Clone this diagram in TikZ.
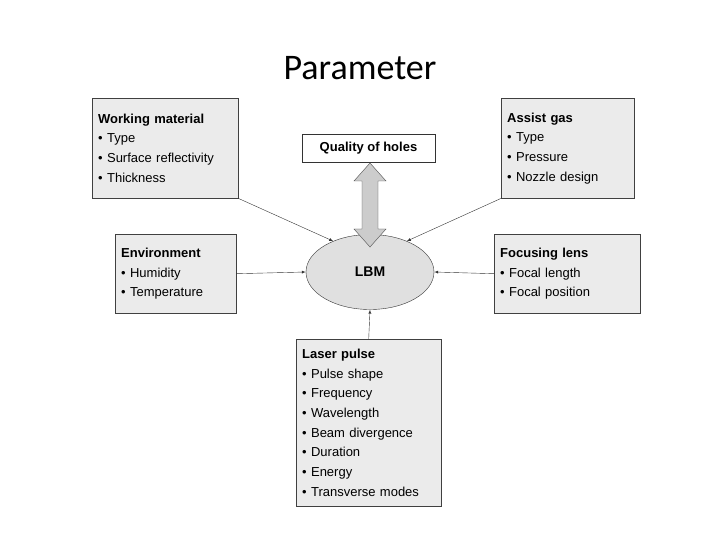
\documentclass[tikz,border=0pt]{standalone}
\usepackage{fontspec}
\setmainfont{Liberation Sans}
\newfontfamily\titlefont{Carlito}
\usetikzlibrary{shapes.geometric}

\tikzset{
	parbox/.style={draw=black!75, fill=black!8, anchor=north west, align=left,
		inner xsep=6pt, inner ysep=2pt, font=\fontsize{13}{19.7}\selectfont},
	conn/.style={->, >=latex, black!80, thin}
}
\newcommand{\itm}{\\\textbullet\ }

\begin{document}
\begin{tikzpicture}[x=1pt, y=-1pt]
	\useasboundingbox (0,0) rectangle (720,540);
	\node[font=\titlefont\fontsize{36}{40}\selectfont] (title) at (360,68) {Parameter};
	% surrounding boxes
	\node[parbox, text width=134pt, minimum height=100pt] (work) at (92,98)
		{\textbf{Working material}\itm Type\itm Surface reflectivity\itm Thickness};
	\node[parbox, text width=121pt, minimum height=100pt] (gas) at (501,98)
		{\textbf{Assist gas}\itm Type\itm Pressure\itm Nozzle design};
	\node[parbox, text width=109pt, minimum height=79pt] (env) at (115,234)
		{\textbf{Environment}\itm Humidity\itm Temperature};
	\node[parbox, text width=134pt, minimum height=79pt] (lens) at (494,234)
		{\textbf{Focusing lens}\itm Focal length\itm Focal position};
	\node[parbox, text width=133pt, minimum height=167pt] (pulse) at (296,339)
		{\textbf{Laser pulse}\itm Pulse shape\itm Frequency\itm Wavelength\itm Beam divergence\itm Duration\itm Energy\itm Transverse modes};
	\node[draw=black!80, fill=white, minimum width=133pt, minimum height=28pt,
		font=\bfseries\fontsize{13}{15}\selectfont] (quality) at (368.5,148) {Quality of holes};
	% centre
	\node[ellipse, draw=black!80, fill=black!12, minimum width=128pt, minimum height=75pt,
		font=\bfseries\fontsize{14}{16}\selectfont] (lbm) at (370,272) {LBM};
	% double arrow between quality and LBM
	\draw[black!70, fill=black!20] (370,163) -- (386,181) -- (378,181) -- (378,229) -- (386,229)
		-- (370,247) -- (354,229) -- (362,229) -- (362,181) -- (354,181) -- cycle;
	% connectors
	\draw[conn] (work.south east) -- (lbm.140);
	\draw[conn] (gas.south west) -- (lbm.40);
	\draw[conn] (env.east) -- (lbm.west);
	\draw[conn] (lens.west) -- (lbm.east);
	\draw[conn] (pulse.north) -- (lbm.south);
\end{tikzpicture}
\end{document}
